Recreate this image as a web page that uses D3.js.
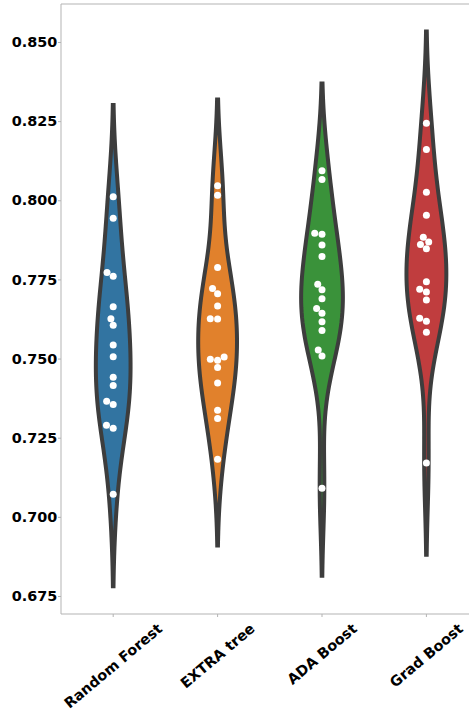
<!DOCTYPE html>
<html>
<head>
<meta charset="utf-8">
<script src="https://cdn.jsdelivr.net/npm/d3@7"></script>
<style>
  body { margin: 0; background: #fff; }
  svg { display: block; }
</style>
</head>
<body>
<svg id="chart" width="469" height="710"></svg>
<script>
// Model names along the x axis
const categories = ["Random Forest", "EXTRA tree", "ADA Boost", "Grad Boost"];

// Cross-validation scores per model
const randomForest = [0.8011, 0.7943, 0.7772, 0.7760, 0.7664, 0.7626, 0.7605, 0.7543,
                      0.7506, 0.7441, 0.7415, 0.7365, 0.7355, 0.7289, 0.7280, 0.7071];
const extraTree    = [0.8046, 0.8016, 0.7788, 0.7721, 0.7705, 0.7666, 0.7626, 0.7625,
                      0.7505, 0.7498, 0.7495, 0.7472, 0.7423, 0.7337, 0.7311, 0.7182];
const adaBoost     = [0.8093, 0.8066, 0.7896, 0.7893, 0.7859, 0.7822, 0.7735, 0.7717,
                      0.7689, 0.7658, 0.7643, 0.7616, 0.7589, 0.7527, 0.7508, 0.7090];
const gradBoost    = [0.8243, 0.8160, 0.8025, 0.7953, 0.7883, 0.7868, 0.7860, 0.7847,
                      0.7743, 0.7719, 0.7710, 0.7685, 0.7627, 0.7618, 0.7583, 0.7170];

// Y axis tick values
const yTicks = [0.675, 0.700, 0.725, 0.750, 0.775, 0.800, 0.825, 0.850];

const seriesList = [randomForest, extraTree, adaBoost, gradBoost];
const colors = ["#3274a1", "#e1812c", "#3a923a", "#c03d3e"];
const lineColor = "#3d3d3d";
const spineColor = "#b3b3b3";
const fontFamily = "'DejaVu Sans', sans-serif";
const fontSize = 14.4;

const svg = d3.select("#chart");
const plot = { left: 61, right: 478.6, top: 4, bottom: 614 };

const x = d3.scaleBand().domain(categories).range([plot.left, plot.right]).padding(0);
const y = d3.scaleLinear().domain([0.66931, 0.862]).range([plot.bottom, plot.top]);

// Gaussian KDE with Scott's bandwidth, extended two bandwidths past the data
function kde(values, gridsize = 100, cut = 2) {
  const n = values.length;
  const bw = d3.deviation(values) * Math.pow(n, -0.2);
  const lo = d3.min(values) - cut * bw, hi = d3.max(values) + cut * bw;
  const norm = 1 / (n * bw * Math.sqrt(2 * Math.PI));
  return d3.range(gridsize).map(i => {
    const g = lo + (hi - lo) * i / (gridsize - 1);
    return [g, norm * d3.sum(values, v => Math.exp(-0.5 * ((g - v) / bw) ** 2))];
  });
}

const densities = seriesList.map(s => kde(s));
const maxDensity = d3.max(densities, d => d3.max(d, p => p[1]));
const violinWidth = 0.4;
const halfWidth = d3.scaleLinear().domain([0, maxDensity]).range([0, violinWidth / 2 * x.bandwidth()]);

// Swarm placement of points around the category midline
function beeswarm(values, cx, d) {
  const pts = values.map(v => ({ v, y: y(v), x: cx })).sort((a, b) => a.v - b.v);
  const swarm = [];
  pts.forEach((p, idx) => {
    if (idx === 0) { swarm.push(p); return; }
    const neighbors = [];
    for (let j = swarm.length - 1; j >= 0; j--) {
      if (swarm[j].y - p.y < d) neighbors.unshift(swarm[j]); else break;
    }
    const candidates = [{ x: cx }];
    let leftFirst = true;
    neighbors.forEach(nb => {
      const dy = p.y - nb.y;
      const dx = Math.sqrt(Math.max(d * d - dy * dy, 0)) * 1.05;
      const l = { x: nb.x - dx }, r = { x: nb.x + dx };
      candidates.push(...(leftFirst ? [l, r] : [r, l]));
      leftFirst = !leftFirst;
    });
    const ordered = candidates.map((c, i) => ({ c, i }))
      .sort((a, b) => (Math.abs(a.c.x - cx) - Math.abs(b.c.x - cx)) || (a.i - b.i))
      .map(o => o.c);
    let chosen = ordered[ordered.length - 1];
    for (const c of ordered) {
      if (neighbors.every(nb => (c.x - nb.x) ** 2 + (p.y - nb.y) ** 2 >= d * d - 1e-9)) { chosen = c; break; }
    }
    p.x = chosen.x;
    swarm.push(p);
  });
  return swarm;
}

// Spines
const spines = svg.append("g").attr("stroke", spineColor).attr("stroke-width", 1).attr("fill", "none");
spines.append("line").attr("x1", plot.left).attr("x2", plot.left).attr("y1", plot.top).attr("y2", plot.bottom);
spines.append("line").attr("x1", plot.left).attr("x2", plot.right).attr("y1", plot.top).attr("y2", plot.top);
spines.append("line").attr("x1", plot.left).attr("x2", plot.right).attr("y1", plot.bottom).attr("y2", plot.bottom);
spines.append("line").attr("x1", plot.right).attr("x2", plot.right).attr("y1", plot.top).attr("y2", plot.bottom);

// Y axis
const yAxis = svg.append("g").attr("transform", `translate(${plot.left},0)`)
  .call(d3.axisLeft(y).tickValues(yTicks).tickFormat(d3.format(".3f")).tickSize(3).tickPadding(0.8));
yAxis.select(".domain").remove();
yAxis.selectAll(".tick line").attr("stroke", spineColor);
yAxis.selectAll(".tick text")
  .attr("fill", "#000").style("font-family", fontFamily).style("font-weight", "bold")
  .style("font-size", fontSize + "px");

// X axis ticks
const xAxis = svg.append("g").attr("transform", `translate(0,${plot.bottom})`)
  .call(d3.axisBottom(x).tickSize(3).tickFormat(""));
xAxis.select(".domain").remove();
xAxis.selectAll(".tick line").attr("stroke", spineColor);

// Rotated category labels, box centred under each tick
const angle = 40 * Math.PI / 180;
categories.forEach(cat => {
  const cx = x(cat) + x.bandwidth() / 2;
  const t = svg.append("text")
    .text(cat)
    .attr("fill", "#000")
    .style("font-family", fontFamily).style("font-weight", "bold")
    .style("font-size", fontSize + "px")
    .attr("text-anchor", "middle");
  const L = t.node().getComputedTextLength();
  const h = fontSize * 1.164;
  const boxH = L * Math.sin(angle) + h * Math.cos(angle);
  const cy = plot.bottom + 6 + boxH / 2;
  t.attr("dy", (0.346) + "em")
   .attr("transform", `translate(${cx},${cy}) rotate(-40)`);
});

// Violins and points
const area = d3.area().curve(d3.curveLinear);
categories.forEach((cat, i) => {
  const cx = x(cat) + x.bandwidth() / 2;
  const dens = densities[i];
  svg.append("path")
    .attr("d", d3.area()
      .x0(p => cx - halfWidth(p[1]))
      .x1(p => cx + halfWidth(p[1]))
      .y(p => y(p[0]))(dens))
    .attr("fill", colors[i])
    .attr("stroke", lineColor)
    .attr("stroke-width", 4);

  const pts = beeswarm(seriesList[i], cx, 7);
  svg.append("g").selectAll("circle").data(pts).join("circle")
    .attr("cx", p => p.x).attr("cy", p => p.y).attr("r", 3.5)
    .attr("fill", "#fff");
});
</script>
</body>
</html>
